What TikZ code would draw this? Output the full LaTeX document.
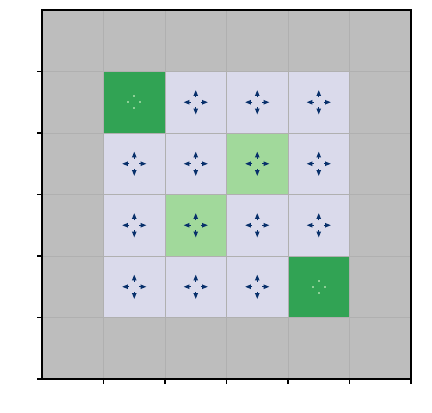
\documentclass[tikz,border=0pt]{standalone}
\definecolor{cellgray}{RGB}{189,189,189}
\definecolor{lav}{RGB}{218,218,235}
\definecolor{dgreen}{RGB}{49,163,84}
\definecolor{lgreen}{RGB}{161,217,155}
\definecolor{gridc}{RGB}{176,176,176}
\definecolor{navy}{RGB}{8,48,107}
\definecolor{dotc}{RGB}{140,208,150}
\tikzset{
  cellbox/.style={fill=#1, draw=none},
  gridline/.style={draw=gridc, line width=0.8pt},
  spine/.style={draw=black, line width=1.2pt},
  tickmark/.style={draw=black, line width=1.2pt},
  arrowhead/.style={fill=navy, draw=none},
  shaftline/.style={draw=navy, line width=0.9pt},
  dotmark/.style={fill=dotc, draw=none}
}
\newcommand{\cellat}[3]{% col, row, color
  \fill[cellbox=#3] ({42+61.5*#1},{10+61.5*#2}) rectangle ({42+61.5*(#1+1)},{10+61.5*(#2+1)});}
\newcommand{\fourarrows}[2]{% col,row
  \begin{scope}[shift={({42+61.5*(#1+0.5)},{10+61.5*(#2+0.5)})}]
    \foreach \ang in {0,90,180,270}{
      \begin{scope}[rotate=\ang]
        \fill[arrowhead] (12,0) -- (6.4,2.3) -- (6.4,-2.3) -- cycle;
        \draw[shaftline] (5,0) -- (6.6,0);
      \end{scope}
    }
  \end{scope}}
\newcommand{\fourdots}[2]{%
  \begin{scope}[shift={({42+61.5*(#1+0.5)},{10+61.5*(#2+0.5)})}]
    \foreach \dx/\dy in {0/-6,0/6,-6/0,6/0}{
      \fill[dotmark] ({\dx-1.1},{\dy-1.1}) rectangle ({\dx+1.1},{\dy+1.1});
    }
  \end{scope}}
\begin{document}
\begin{tikzpicture}[x=1pt,y=-1pt]
\useasboundingbox[fill=white] (0,0) rectangle (432,413);
% background gray
\fill[cellbox=cellgray] (42,10) rectangle (411,379);
% inner cells
\foreach \c/\r/\col in {
  1/1/dgreen,2/1/lav,3/1/lav,4/1/lav,
  1/2/lav,2/2/lav,3/2/lgreen,4/2/lav,
  1/3/lav,2/3/lgreen,3/3/lav,4/3/lav,
  1/4/lav,2/4/lav,3/4/lav,4/4/dgreen}{
  \cellat{\c}{\r}{\col}
}
% grid lines
\foreach \i in {1,...,5}{
  \draw[gridline] ({42+61.5*\i},10) -- ({42+61.5*\i},379);
  \draw[gridline] (42,{10+61.5*\i}) -- (411,{10+61.5*\i});
}
% arrows
\foreach \c/\r in {2/1,3/1,4/1,1/2,2/2,3/2,4/2,1/3,2/3,3/3,4/3,1/4,2/4,3/4}{
  \fourarrows{\c}{\r}
}
\fourdots{1}{1}
\fourdots{4}{4}
% spines
\draw[spine] (42,10) rectangle (411,379);
% ticks
\foreach \i in {1,...,6}{
  \draw[tickmark] ({42+61.5*\i},379) -- ({42+61.5*\i},384);
  \draw[tickmark] (42,{10+61.5*\i}) -- (37,{10+61.5*\i});
}
\end{tikzpicture}
\end{document}
